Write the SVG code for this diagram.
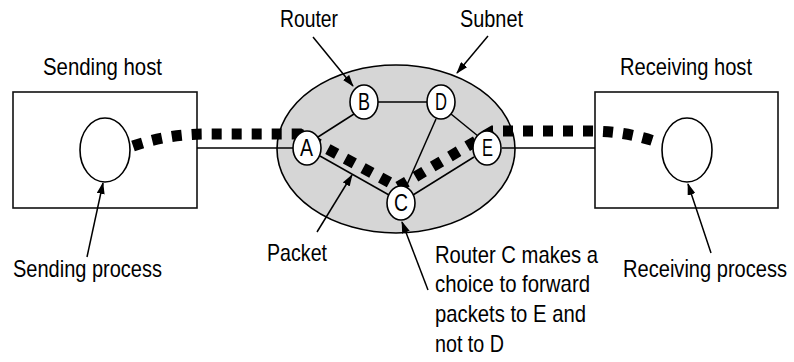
<svg xmlns="http://www.w3.org/2000/svg" width="794" height="362" viewBox="0 0 794 362">
<style>
.ln{stroke:#000;stroke-width:1.5;fill:none}
.box{stroke:#111;stroke-width:1.6;fill:#fff}
.nd{stroke:#000;stroke-width:1.6;fill:#fff}
.t{font-family:"Liberation Sans",Arial,sans-serif;font-size:24px;fill:#000}
.nl{font-family:"Liberation Sans",Arial,sans-serif;font-size:23px;fill:#000}
.arr{stroke:#000;stroke-width:1.5;fill:none;marker-end:url(#ah)}
.pk{stroke:#000;stroke-width:11;fill:none;stroke-dasharray:10 10}
</style>
<defs>
<marker id="ah" markerWidth="12" markerHeight="8" refX="11" refY="4" orient="auto" markerUnits="userSpaceOnUse">
<path d="M0,0 L12,4 L0,8 Z" fill="#000"/>
</marker>
</defs>
<rect width="794" height="362" fill="#fff"/>
<g id="subnet">
<ellipse cx="396" cy="149" rx="119" ry="84" fill="#d6d6d6" stroke="#000" stroke-width="1.6"/>
</g>
<g id="sending-host">
<rect class="box" x="13" y="92" width="184" height="116"/>
<ellipse class="nd" cx="105" cy="150" rx="25" ry="32"/>
</g>
<g id="receiving-host">
<rect class="box" x="595" y="92" width="183" height="116"/>
<ellipse class="nd" cx="687" cy="150" rx="25" ry="32"/>
</g>
<g id="connectors">
<line class="ln" x1="197" y1="148" x2="293" y2="148"/>
<line class="ln" x1="502" y1="148" x2="595" y2="148"/>
<line class="ln" x1="378" y1="102" x2="427" y2="102"/>
<line class="ln" x1="354" y1="114" x2="318" y2="137"/>
<line class="ln" x1="451" y1="114" x2="478" y2="136"/>
<line class="ln" x1="436" y1="119" x2="406" y2="187"/>
<line class="ln" x1="320" y1="156" x2="389" y2="195"/>
<line class="ln" x1="413" y1="195" x2="474" y2="157"/>
<path class="pk" d="M133,146 Q168,134 205,134 L300,134 L398,187 L493,131 L590,131 Q625,131 657,142"/>
<line class="arr" x1="313" y1="37" x2="353" y2="86"/>
<line class="arr" x1="488" y1="36" x2="457" y2="73"/>
<line class="arr" x1="317" y1="232" x2="352" y2="175"/>
<line class="arr" x1="428" y1="290" x2="402" y2="222"/>
<line class="arr" x1="87" y1="257" x2="103" y2="183"/>
<line class="arr" x1="711" y1="253" x2="688" y2="184"/>
</g>
<g id="node-B"><ellipse class="nd" cx="364" cy="102" rx="14" ry="17"/><text class="nl" x="358" y="110" textLength="12" lengthAdjust="spacingAndGlyphs">B</text></g>
<g id="node-D"><ellipse class="nd" cx="441" cy="102" rx="14" ry="17"/><text class="nl" x="435" y="110" textLength="12" lengthAdjust="spacingAndGlyphs">D</text></g>
<g id="node-A"><ellipse class="nd" cx="307" cy="148" rx="14" ry="17"/><text class="nl" x="300" y="156" textLength="13" lengthAdjust="spacingAndGlyphs">A</text></g>
<g id="node-E"><ellipse class="nd" cx="487" cy="148" rx="14" ry="17"/><text class="nl" x="482" y="156" textLength="11" lengthAdjust="spacingAndGlyphs">E</text></g>
<g id="node-C"><ellipse class="nd" cx="401" cy="203" rx="14" ry="17"/><text class="nl" x="394" y="211" textLength="14" lengthAdjust="spacingAndGlyphs">C</text></g>
<g id="labels">
<text class="t" x="43" y="75" textLength="119" lengthAdjust="spacingAndGlyphs">Sending host</text>
<text class="t" x="620" y="75" textLength="132" lengthAdjust="spacingAndGlyphs">Receiving host</text>
<text class="t" x="280" y="27" textLength="58" lengthAdjust="spacingAndGlyphs">Router</text>
<text class="t" x="460" y="27" textLength="63" lengthAdjust="spacingAndGlyphs">Subnet</text>
<text class="t" x="267" y="261" textLength="60" lengthAdjust="spacingAndGlyphs">Packet</text>
<text class="t" x="13" y="277" textLength="149" lengthAdjust="spacingAndGlyphs">Sending process</text>
<text class="t" transform="translate(623,277) scale(0.837,1)" x="0" y="0">Receiving process</text>
<text class="t" x="435" y="263" textLength="163" lengthAdjust="spacingAndGlyphs">Router C makes a</text>
<text class="t" x="435" y="292" textLength="155" lengthAdjust="spacingAndGlyphs">choice to forward</text>
<text class="t" x="435" y="322" textLength="151" lengthAdjust="spacingAndGlyphs">packets to E and</text>
<text class="t" x="435" y="352" textLength="69" lengthAdjust="spacingAndGlyphs">not to D</text>
</g>
</svg>
